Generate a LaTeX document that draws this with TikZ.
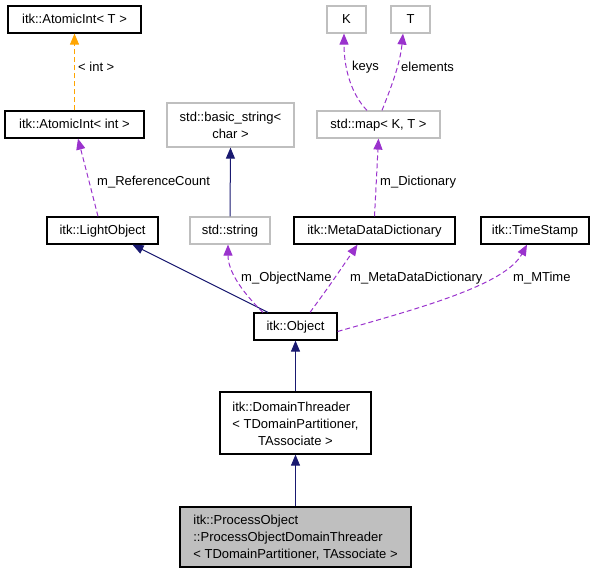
\documentclass[tikz,border=0pt]{standalone}
\usepackage{fontspec}
\setmainfont{Liberation Sans}
\usetikzlibrary{arrows.meta}
\definecolor{navy}{HTML}{191970}
\definecolor{orchid}{HTML}{9A32CD}
\definecolor{orng}{HTML}{FFA500}
\definecolor{grayb}{HTML}{BFBFBF}
\begin{document}
\begin{tikzpicture}[x=1pt,y=-1pt, font=\fontsize{13}{17}\selectfont,
  box/.style={draw=black, line width=1.2pt, rectangle, inner sep=0pt, fill=white},
  gbox/.style={draw=grayb, line width=1.2pt, rectangle, inner sep=0pt, fill=white},
  sl/.style={text height=9.5pt, text depth=1pt, minimum height=27pt},
  tip/.style={-{Triangle[length=11pt,width=9pt]}},
  inh/.style={navy, line width=1pt, tip},
  use/.style={orchid, line width=1pt, dash pattern=on 5pt off 3pt, tip},
  tmpl/.style={orng, line width=1pt, dash pattern=on 5pt off 3pt, tip},
  lbl/.style={inner sep=0pt}
]
\useasboundingbox (0,0) rectangle (593,576);

% nodes
\node[box, sl, minimum width=133pt] (ati) at (74.5,19.5) {itk::AtomicInt< T >};
\node[box, sl, minimum width=139pt] (atint) at (74.5,124.5) {itk::AtomicInt< int >};
\node[gbox, minimum width=127pt, minimum height=44pt, align=center] (bstr) at (230.5,125) {std::basic\_string<\\char >};
\node[gbox, sl, minimum width=39pt] (K) at (346.5,19.5) {K};
\node[gbox, sl, minimum width=39pt] (T) at (410.5,19.5) {T};
\node[gbox, sl, minimum width=123pt] (map) at (378.5,124.5) {std::map< K, T >};
\node[box, sl, minimum width=111pt] (lobj) at (102.5,230.5) {itk::LightObject};
\node[gbox, sl, minimum width=80pt] (str) at (230,230.5) {std::string};
\node[box, sl, minimum width=161pt] (mdd) at (374.5,230.5) {itk::MetaDataDictionary};
\node[box, sl, minimum width=108pt] (ts) at (535,230.5) {itk::TimeStamp};
\node[box, sl, minimum width=83pt] (obj) at (295.5,326.5) {itk::Object};
\node[box, minimum width=151pt, minimum height=62pt] (dt) at (295.5,423)
  {\raisebox{-2pt}[\height][\depth]{\begin{tabular}{@{}l@{}}itk::DomainThreader\\< TDomainPartitioner,\\\multicolumn{1}{@{}c@{}}{TAssociate >}\end{tabular}}};
\node[box, fill=grayb, minimum width=231pt, minimum height=60pt] (po) at (295.5,537)
  {\raisebox{-1.5pt}[\height][\depth]{\begin{tabular}{@{}l@{}}itk::ProcessObject\\::ProcessObjectDomainThreader\\< TDomainPartitioner, TAssociate >\end{tabular}}};

% edges
\draw[tmpl] (atint.north) -- (ati.south);
\node[lbl, anchor=west] (l1) at (78,67) {< int >};

\draw[use] ([xshift=-4.5pt]lobj.north) .. controls (90,185) .. ([xshift=3.5pt]atint.south);
\node[lbl, anchor=west] (l2) at (97,182) {m\_ReferenceCount};

\draw[inh] (str.north) -- (bstr.south);

\draw[inh] ([xshift=-27.5pt]obj.north) -- ([xshift=30pt]lobj.south);

\draw[use] ([xshift=-32.5pt]obj.north) .. controls (240,290) and (228,270) .. ([xshift=-2pt]str.south);
\node[lbl, anchor=west] (l3) at (241,278) {m\_ObjectName};

\draw[use] ([xshift=14.5pt]obj.north) .. controls (330,285) .. ([xshift=-17pt]mdd.south);
\node[lbl, anchor=west] (l4) at (350,278) {m\_MetaDataDictionary};

\draw[use] ([yshift=-5pt]obj.east) .. controls (420,308) and (505,285) .. ([xshift=-8pt]ts.south);
\node[lbl, anchor=west] (l5) at (513,278) {m\_MTime};

\draw[use] ([xshift=-11.5pt]map.north) .. controls (352,95) and (344,70) .. ([xshift=-2.5pt]K.south);
\node[lbl, anchor=west] (l6) at (352,67) {keys};

\draw[use] ([xshift=3.5pt]map.north) .. controls (390,90) and (400,65) .. ([xshift=-7.5pt]T.south);
\node[lbl, anchor=west] (l7) at (401,67) {elements};

\draw[use] (mdd.north) -- (map.south);
\node[lbl, anchor=west] (l8) at (380,182) {m\_Dictionary};

\draw[inh] (dt.north) -- (obj.south);
\draw[inh] (po.north) -- (dt.south);
\end{tikzpicture}
\end{document}
